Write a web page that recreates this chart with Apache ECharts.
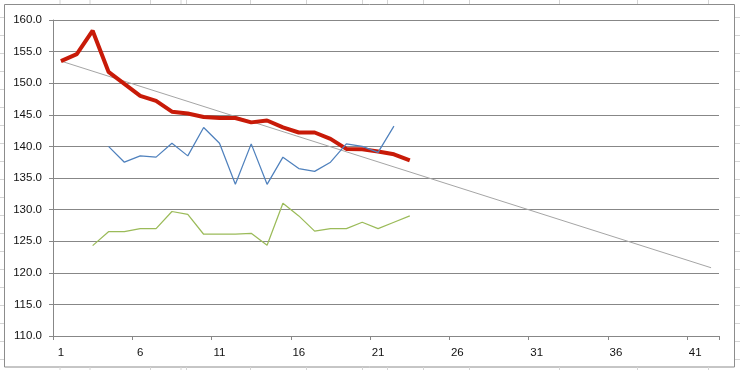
<!DOCTYPE html>
<html>
<head>
<meta charset="utf-8">
<script src="https://cdn.jsdelivr.net/npm/echarts@6/dist/echarts.min.js"></script>
<style>
html,body{margin:0;padding:0;background:#fff;}
#c{width:740px;height:370px;}
</style>
</head>
<body>
<div id="c"></div>
<script>
var categories = [];
for (var k = 1; k <= 42; k++) categories.push(String(k));

var redValues = [153.5,154.6,158.3,151.8,149.9,148.0,147.2,145.5,145.2,144.65,144.5,144.5,143.8,144.1,143.0,142.2,142.2,141.2,139.6,139.55,139.2,138.75,137.8];
var blueValues = [null,null,null,140.0,137.5,138.5,138.3,140.5,138.5,143.0,140.5,134.0,140.4,134.0,138.3,136.5,136.05,137.5,140.4,140.0,139.05,143.2];
var greenValues = [null,null,124.3,126.5,126.5,127.0,127.0,129.7,129.25,126.1,126.1,126.1,126.25,124.35,131.0,129.0,126.6,127.0,127.0,128.0,127.0,128.0,129.0];
var trendValues = [153.5].concat(new Array(40).fill(null)).concat([120.8]);

var yTicks = {min:110, max:160, interval:5};

var chart = echarts.init(document.getElementById('c'), null, {renderer:'canvas'});

// spreadsheet decoration outside the chart area
var deco = [];
var colX = [60,90,150.5,181,186.5,250.5,306.5,362.5,387.5,423.5,469.5,559.5,637.5,708.5];
colX.forEach(function(x){
  deco.push({type:'line', shape:{x1:x,y1:0,x2:x,y2:4}, style:{stroke:'#d4d4d4',lineWidth:1}, silent:true});
  deco.push({type:'line', shape:{x1:x,y1:367,x2:x,y2:370}, style:{stroke:'#d4d4d4',lineWidth:1}, silent:true});
});
for (var r = 0; r < 20; r++) {
  var yy = 17.5 + r*18;
  deco.push({type:'line', shape:{x1:0,y1:yy,x2:4,y2:yy}, style:{stroke:'#d4d4d4',lineWidth:1}, silent:true});
  deco.push({type:'line', shape:{x1:735,y1:yy,x2:740,y2:yy}, style:{stroke:'#d4d4d4',lineWidth:1}, silent:true});
}
deco.push({type:'rect', shape:{x:4.5,y:4.5,width:730,height:362.5}, style:{fill:null,stroke:'#8c8c8c',lineWidth:1}, silent:true, z:-1});

var labelStyle = {color:'#111', fontSize:11.5, fontFamily:'Liberation Sans, Arial, sans-serif'};

chart.setOption({
  animation:false,
  backgroundColor:'#fff',
  graphic: deco,
  grid:{left:53, right:21, top:20, bottom:34, containLabel:false},
  xAxis:{
    type:'category',
    data:categories,
    boundaryGap:true,
    axisLine:{show:true, lineStyle:{color:'#878787', width:1}},
    axisTick:{show:true, interval:4, length:4, alignWithLabel:false, lineStyle:{color:'#878787'}},
    axisLabel:Object.assign({interval:4, margin:11}, labelStyle),
    splitLine:{show:false}
  },
  yAxis:{
    type:'value',
    min:yTicks.min, max:yTicks.max, interval:yTicks.interval,
    axisLine:{show:true, lineStyle:{color:'#878787', width:1}},
    axisTick:{show:true, length:4, lineStyle:{color:'#878787'}},
    axisLabel:Object.assign({margin:11, formatter:function(v){return v.toFixed(1);}}, labelStyle),
    splitLine:{show:true, lineStyle:{color:'#878787', width:1}}
  },
  series:[
    {type:'line', data:trendValues, connectNulls:true, showSymbol:false, symbol:'none',
     lineStyle:{color:'#a5a5a5', width:1}, z:2},
    {type:'line', data:redValues, showSymbol:false, symbol:'none',
     lineStyle:{color:'#c81a08', width:4}, z:3},
    {type:'line', data:blueValues, showSymbol:false, symbol:'none',
     lineStyle:{color:'#4f81bd', width:1.25}, z:4},
    {type:'line', data:greenValues, showSymbol:false, symbol:'none',
     lineStyle:{color:'#9bbb59', width:1.25}, z:4}
  ]
});
</script>
</body>
</html>
